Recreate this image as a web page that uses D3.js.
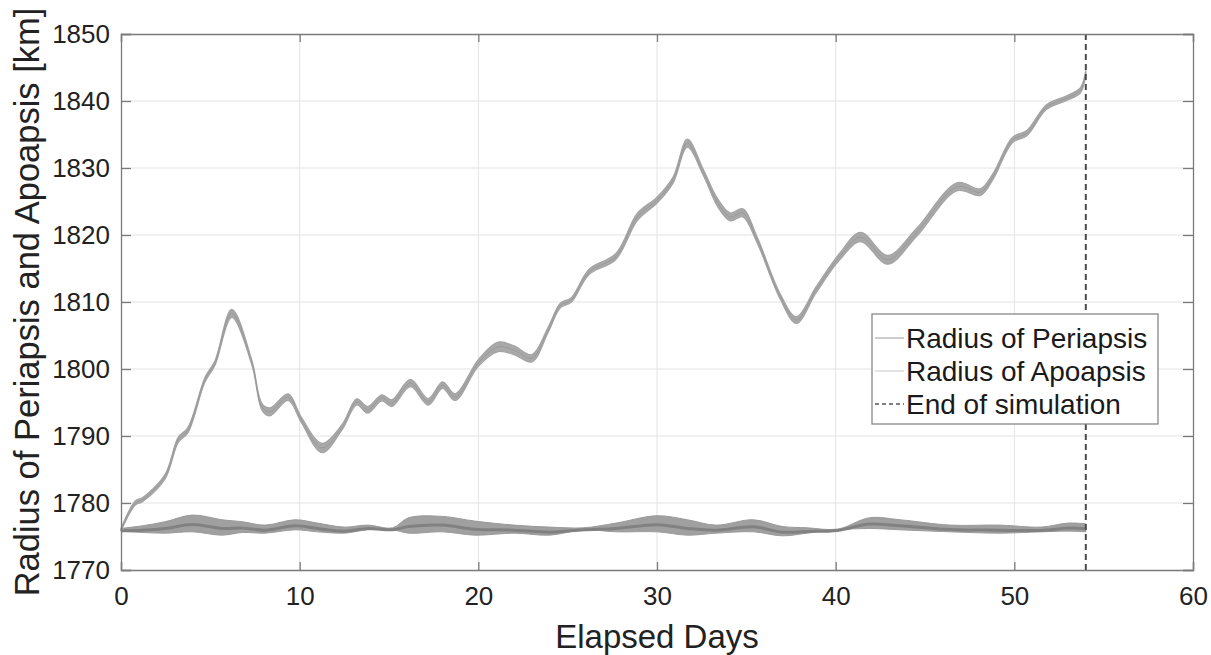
<!DOCTYPE html>
<html>
<head>
<meta charset="utf-8">
<script src="https://cdn.jsdelivr.net/npm/d3@7"></script>
<style>
  body { margin: 0; background: #fff; }
  text { font-family: "Liberation Sans", Arial, sans-serif; }
</style>
</head>
<body>
<div id="chart"></div>
<script>
// --- Data ---
const xTicks = [0, 10, 20, 30, 40, 50, 60];
const yTicks = [1770, 1780, 1790, 1800, 1810, 1820, 1830, 1840, 1850];
const endDay = 54;

// Radius of apoapsis: centre of the thin band and its half-width (km)
const apoDays = [0, 0.8, 1.2, 2.46, 3.2, 3.75, 4.7, 5.26, 6.2, 7.33, 7.9, 8.34, 9.35, 10.1, 11.25, 12.37, 13.2, 13.8, 14.6, 15.15, 16.2, 17.2, 18.0, 18.7, 20.0, 21.1, 22.0, 23.0, 23.9, 24.6, 25.2, 26.2, 27.7, 28.9, 30.0, 30.9, 31.7, 32.6, 33.4, 34.1, 34.8, 35.6, 36.9, 37.8, 38.9, 40.2, 41.4, 42.9, 44.5, 46.8, 48.1, 48.8, 49.9, 50.7, 51.8, 52.9, 53.7, 54.0];
const apoValues = [1776, 1780, 1780.5, 1783.9, 1789.4, 1790.9, 1798.4, 1800.9, 1808.3, 1800.9, 1794.3, 1793.6, 1795.8, 1792.4, 1788.2, 1791.3, 1795.1, 1793.9, 1795.7, 1794.9, 1797.9, 1795.1, 1797.6, 1795.8, 1800.9, 1803.3, 1802.8, 1801.6, 1805.8, 1809.5, 1810.3, 1814.5, 1816.8, 1822.7, 1825.2, 1828.2, 1833.7, 1829.3, 1824.8, 1822.7, 1823.3, 1819.3, 1810.8, 1807.3, 1811.8, 1816.7, 1819.7, 1816.3, 1820.3, 1827.2, 1826.4, 1828.7, 1834.2, 1835.2, 1839.1, 1840.4, 1841.6, 1844.3];
const apoSpread = [0.2, 0.3, 0.3, 0.35, 0.4, 0.4, 0.35, 0.35, 0.6, 0.35, 0.5, 0.6, 0.5, 0.4, 0.7, 0.4, 0.45, 0.5, 0.45, 0.5, 0.55, 0.5, 0.5, 0.5, 0.5, 0.7, 0.65, 0.55, 0.4, 0.35, 0.35, 0.4, 0.45, 0.55, 0.45, 0.45, 0.6, 0.45, 0.6, 0.6, 0.6, 0.45, 0.4, 0.5, 0.45, 0.5, 0.7, 0.65, 0.6, 0.6, 0.5, 0.45, 0.4, 0.4, 0.35, 0.35, 0.4, 0.3];

// Radius of periapsis: upper and lower edge of the band (km)
const periDays = [0, 1.2, 2.46, 4.0, 5.65, 6.8, 8.06, 9.74, 11.0, 12.5, 13.8, 15.2, 16.1, 18.0, 19.8, 22.0, 24.0, 25.9, 27.7, 30.0, 31.7, 33.3, 35.4, 37.0, 38.4, 40.1, 41.9, 43.6, 46.4, 49.2, 51.5, 53.0, 54.0];
const periUpper = [1776.2, 1776.6, 1777.2, 1778.2, 1777.5, 1777.2, 1776.7, 1777.5, 1777.0, 1776.4, 1776.7, 1776.3, 1777.8, 1778.0, 1777.3, 1776.7, 1776.4, 1776.3, 1777.0, 1778.1, 1777.5, 1776.7, 1777.5, 1776.5, 1776.3, 1776.1, 1777.8, 1777.5, 1776.7, 1776.7, 1776.4, 1777.0, 1776.9];
const periLower = [1775.8, 1775.6, 1775.5, 1775.7, 1775.2, 1775.6, 1775.5, 1776.0, 1775.7, 1775.5, 1776.0, 1776.0, 1775.5, 1775.7, 1775.2, 1775.5, 1775.2, 1776.0, 1775.7, 1775.7, 1775.2, 1775.5, 1775.7, 1775.1, 1775.5, 1776.0, 1776.2, 1776.0, 1775.7, 1775.5, 1775.7, 1775.8, 1775.7];

const legendLabels = ["Radius of Periapsis", "Radius of Apoapsis", "End of simulation"];

// --- Layout ---
const W = 1211, H = 655;
const margin = { top: 34, right: 18, bottom: 85, left: 121 };
const width = W - margin.left - margin.right;
const height = H - margin.top - margin.bottom;

const svg = d3.select("#chart").append("svg").attr("width", W).attr("height", H);
svg.append("rect").attr("width", W).attr("height", H).attr("fill", "#fff");
const g = svg.append("g").attr("transform", `translate(${margin.left},${margin.top})`);

const x = d3.scaleLinear().domain([0, 60]).range([0, width]);
const y = d3.scaleLinear().domain([1770, 1850]).range([height, 0]);

// grid
g.append("g").selectAll("line").data(xTicks.slice(1, -1)).enter().append("line")
    .attr("x1", d => x(d)).attr("x2", d => x(d)).attr("y1", 0).attr("y2", height)
    .attr("stroke", "#e3e3e3").attr("stroke-width", 1);
g.append("g").selectAll("line").data(yTicks.slice(1, -1)).enter().append("line")
    .attr("x1", 0).attr("x2", width).attr("y1", d => y(d)).attr("y2", d => y(d))
    .attr("stroke", "#e3e3e3").attr("stroke-width", 1);

// --- Periapsis band ---
const peri = periDays.map((d, i) => ({ d, hi: periUpper[i], lo: periLower[i] }));
g.append("path").datum(peri)
    .attr("d", d3.area().x(p => x(p.d)).y0(p => y(p.lo)).y1(p => y(p.hi)).curve(d3.curveCatmullRom))
    .attr("fill", "#a0a0a0").attr("stroke", "#9a9a9a").attr("stroke-width", 1);
g.append("path").datum(peri)
    .attr("d", d3.line().x(p => x(p.d)).y(p => y((p.hi + p.lo) / 2 - 0.15)).curve(d3.curveCatmullRom))
    .attr("fill", "none").attr("stroke", "#818181").attr("stroke-width", 3);

// --- Apoapsis band ---
const apo = apoDays.map((d, i) => ({ d, v: apoValues[i], s: apoSpread[i] }));
g.append("path").datum(apo)
    .attr("d", d3.area().x(p => x(p.d)).y0(p => y(p.v - p.s)).y1(p => y(p.v + p.s)).curve(d3.curveCatmullRom))
    .attr("fill", "#a9a9a9").attr("stroke", "#a3a3a3").attr("stroke-width", 1.2);
g.append("path").datum(apo)
    .attr("d", d3.line().x(p => x(p.d)).y(p => y(p.v)).curve(d3.curveCatmullRom))
    .attr("fill", "none").attr("stroke", "#9a9a9a").attr("stroke-width", 1);

// end of simulation
g.append("line")
    .attr("x1", x(endDay)).attr("x2", x(endDay)).attr("y1", 0).attr("y2", height)
    .attr("stroke", "#4a4a4a").attr("stroke-width", 2).attr("stroke-dasharray", "6 4");

// --- Axes ---
const axisColor = "#7a7a7a";
g.append("g").attr("transform", `translate(0,${height})`)
    .call(d3.axisBottom(x).tickValues(xTicks).tickSize(-8).tickPadding(17));
g.append("g")
    .call(d3.axisLeft(y).tickValues(yTicks).tickSize(-10).tickPadding(11).tickFormat(d3.format("d")));
g.append("g").call(d3.axisTop(x).tickValues(xTicks).tickSize(-8).tickFormat(""));
g.append("g").attr("transform", `translate(${width},0)`)
    .call(d3.axisRight(y).tickValues(yTicks).tickSize(-10).tickFormat(""));
g.selectAll(".domain, .tick line").attr("stroke", axisColor).attr("stroke-width", 1.3);
g.selectAll(".tick text").attr("font-size", 26).attr("fill", "#222")
    .style("font-family", "'Liberation Sans', Arial, sans-serif");

// axis titles
svg.append("text")
    .attr("x", margin.left + width / 2).attr("y", 648)
    .attr("text-anchor", "middle").attr("font-size", 33).attr("fill", "#222")
    .text("Elapsed Days");
svg.append("text")
    .attr("transform", `translate(39,${margin.top + height / 2}) rotate(-90)`)
    .attr("text-anchor", "middle").attr("font-size", 34.5).attr("fill", "#222")
    .text("Radius of Periapsis and Apoapsis [km]");

// --- Legend ---
const lg = svg.append("g").attr("transform", "translate(872,314)");
lg.append("rect").attr("width", 286).attr("height", 110)
    .attr("fill", "#fff").attr("stroke", "#888").attr("stroke-width", 1.3);
const rows = lg.selectAll(".row").data(legendLabels).enter().append("g")
    .attr("transform", (d, i) => `translate(0,${24 + i * 33})`);
rows.append("line").attr("x1", 3).attr("x2", 32).attr("y1", 0).attr("y2", 0)
    .attr("stroke", (d, i) => i === 0 ? "#9a9a9a" : i === 1 ? "#c8c8c8" : "#555")
    .attr("stroke-width", (d, i) => i === 2 ? 1.5 : 1)
    .attr("stroke-dasharray", (d, i) => i === 2 ? "4 3" : null);
rows.append("text").attr("x", 34).attr("y", 0).attr("dy", "0.36em")
    .attr("font-size", 28).attr("fill", "#1a1a1a").text(d => d);
</script>
</body>
</html>
